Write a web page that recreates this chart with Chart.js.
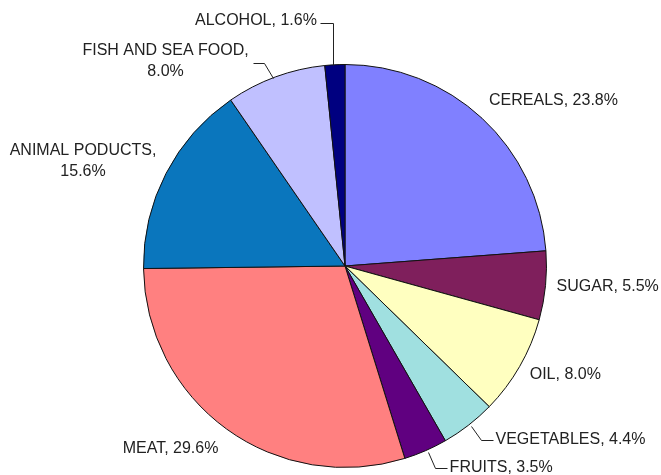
<!DOCTYPE html>
<html>
<head>
<meta charset="utf-8">
<script src="https://cdn.jsdelivr.net/npm/chart.js@4/dist/chart.umd.min.js"></script>
<style>
  body { margin: 0; background: #ffffff; }
  #chart { display: block; }
</style>
</head>
<body>
<canvas id="chart" width="661" height="475"></canvas>
<script>
let categories = [
    'CEREALS', 'SUGAR', 'OIL', 'VEGETABLES', 'FRUITS',
    'MEAT', 'ANIMAL PODUCTS', 'FISH AND SEA FOOD', 'ALCOHOL'
];

let shares = [23.8, 5.5, 8.0, 4.4, 3.5, 29.6, 15.6, 8.0, 1.6];

let sliceColors = [
    '#8080ff', '#7f1f5c', '#ffffc0', '#a0e0e0', '#600080',
    '#ff8080', '#0a76bd', '#c0c0ff', '#000080'
];

// where each label sits, relative to the middle of its slice's outer edge
let labelLayout = [
    { dx: 7, dy: -18, align: 'left' },
    { dx: 11, dy: 1, align: 'left' },
    { dx: 10, dy: 8, align: 'left' },
    { dx: 27, dy: 14, align: 'left', leader: [[2, 1], [12, 15], [24, 15]] },
    { dx: 24, dy: 17, align: 'left', leader: [[2, 1], [9, 17], [21, 17]] },
    { dx: -56, dy: 20, align: 'center' },
    { dx: -83, dy: -23, align: 'center', twoLines: true },
    { dx: -110, dy: -26, align: 'center', twoLines: true, leader: [[-3, 1], [-12, -14], [-23, -14]] },
    { dx: -18, dy: -44, align: 'right', leader: [[-2, 0], [-2, -42], [-15, -42]] }
];

let sliceLabels = {
    id: 'sliceLabels',
    afterDraw: function(chart) {
        let ctx = chart.ctx;
        let arcs = chart.getDatasetMeta(0).data;

        ctx.save();
        ctx.font = '16px "Liberation Sans", Arial, sans-serif';
        ctx.fillStyle = '#222222';
        ctx.strokeStyle = '#222222';
        ctx.lineWidth = 1;
        ctx.textBaseline = 'middle';

        for (let i = 0; i < arcs.length; i++) {
            let arc = arcs[i];
            let mid = (arc.startAngle + arc.endAngle) / 2;
            let ex = arc.x + arc.outerRadius * Math.cos(mid);
            let ey = arc.y + arc.outerRadius * Math.sin(mid);
            let layout = labelLayout[i];
            let valueText = shares[i].toFixed(1) + '%';

            if (layout.leader) {
                ctx.beginPath();
                for (let p = 0; p < layout.leader.length; p++) {
                    let px = Math.round(ex + layout.leader[p][0]) + 0.5;
                    let py = Math.round(ey + layout.leader[p][1]) + 0.5;
                    if (p === 0) ctx.moveTo(px, py);
                    else ctx.lineTo(px, py);
                }
                ctx.stroke();
            }

            ctx.textAlign = layout.align;
            let tx = ex + layout.dx;
            let ty = ey + layout.dy;
            if (layout.twoLines) {
                ctx.fillText(categories[i] + ',', tx, ty);
                ctx.fillText(valueText, tx, ty + 21);
            } else {
                ctx.fillText(categories[i] + ', ' + valueText, tx, ty);
            }
        }
        ctx.restore();
    }
};

let config = {
    type: 'pie',
    data: {
        labels: categories,
        datasets: [{
            data: shares,
            backgroundColor: sliceColors,
            borderColor: '#111111',
            borderWidth: 1,
            hoverOffset: 0
        }]
    },
    options: {
        responsive: false,
        animation: false,
        layout: {
            padding: { left: 143, top: 64, right: 114, bottom: 7 }
        },
        plugins: {
            legend: { display: false },
            tooltip: { enabled: false }
        }
    },
    plugins: [sliceLabels]
};

let myChart = new Chart(document.getElementById('chart'), config);
</script>
</body>
</html>
